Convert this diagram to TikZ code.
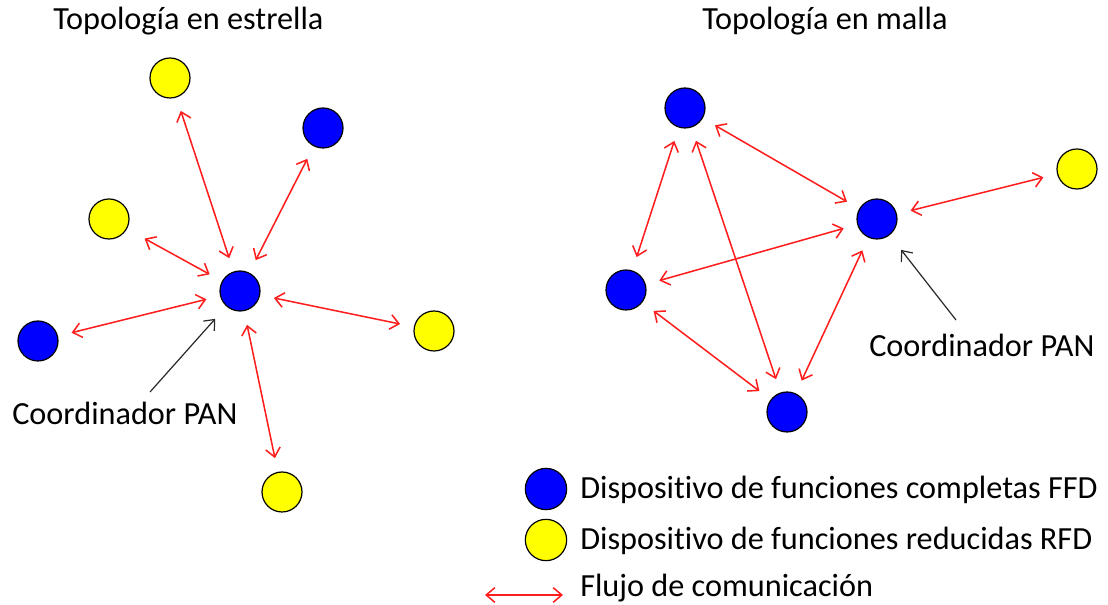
\documentclass[tikz,border=0pt]{standalone}
\usepackage{fontspec}
\setmainfont{Carlito}[Ligatures=NoCommon]
\usetikzlibrary{arrows.meta}
\definecolor{ffdblue}{RGB}{0,0,255}
\definecolor{rfdyellow}{RGB}{255,255,0}
\definecolor{flowred}{RGB}{255,30,30}
\definecolor{pointer}{RGB}{40,40,40}
\tikzset{
  dev/.style={circle,draw=black,line width=0.9pt,minimum size=30pt,inner sep=0pt},
  ffd/.style={dev,fill=ffdblue},
  rfd/.style={dev,fill=rfdyellow},
  flow/.style={draw=flowred,line width=1.15pt,{Straight Barb[length=6.5pt,width=11pt]}-{Straight Barb[length=6.5pt,width=11pt]},shorten <=10.5pt,shorten >=10.5pt},
  pointerarrow/.style={draw=pointer,line width=0.9pt,-{Straight Barb[length=6.5pt,width=11pt]}},
  lbl/.style={inner sep=0pt,anchor=base west,font=\fontsize{24.2}{28}\selectfont}
}
\begin{document}
\begin{tikzpicture}[x=0.75pt,y=-0.75pt]
\useasboundingbox (0,0) rectangle (1108,605);
% titles
\node[lbl] (t1) at (53,30) {Topología en estrella};
\node[lbl] (t2) at (702,30) {Topología en malla};
% star topology
\node[ffd] (sc) at (240,291) {};
\node[rfd] (s1) at (170,78) {};
\node[ffd] (s2) at (323,128) {};
\node[rfd] (s3) at (109,219) {};
\node[ffd] (s4) at (38,341) {};
\node[rfd] (s5) at (434,331) {};
\node[rfd] (s6) at (282,492) {};
\draw[flow] (s1) -- (sc);
\draw[flow] (s2) -- (sc);
\draw[flow,shorten <=15pt] (s3) -- (sc);
\draw[flow] (s4) -- (sc);
\draw[flow] (s5) -- (sc);
\draw[flow] (s6) -- (sc);
\node[lbl] (cp1) at (12,425) {Coordinador PAN};
\coordinate (p1) at (150,392);
\draw[pointerarrow,shorten >=12.5pt] (p1) -- (sc);
% mesh topology
\node[ffd] (m1) at (685,108) {};
\node[ffd] (m2) at (877,219) {};
\node[rfd] (m3) at (1077,169) {};
\node[ffd] (m4) at (626,290) {};
\node[ffd] (m5) at (787,412) {};
\draw[flow] (m1) -- (m2);
\draw[flow] (m1) -- (m4);
\draw[flow] (m1) -- (m5);
\draw[flow] (m2) -- (m3);
\draw[flow] (m2) -- (m4);
\draw[flow] (m2) -- (m5);
\draw[flow] (m4) -- (m5);
\node[lbl] (cp2) at (869,357) {Coordinador PAN};
\coordinate (p2) at (956,320);
\draw[pointerarrow,shorten >=14pt] (p2) -- (m2);
% legend
\node[ffd,minimum size=31pt] (lg1) at (546,489) {};
\node[rfd,minimum size=31pt] (lg2) at (546,540) {};
\coordinate (la) at (485,595);
\coordinate (lb) at (563,595);
\draw[flow,shorten <=0pt,shorten >=0pt] (la) -- (lb);
\node[lbl] (lt1) at (580,499) {Dispositivo de funciones completas FFD};
\node[lbl] (lt2) at (580,550) {Dispositivo de funciones reducidas RFD};
\node[lbl] (lt3) at (580,597) {Flujo de comunicación};
\end{tikzpicture}
\end{document}
